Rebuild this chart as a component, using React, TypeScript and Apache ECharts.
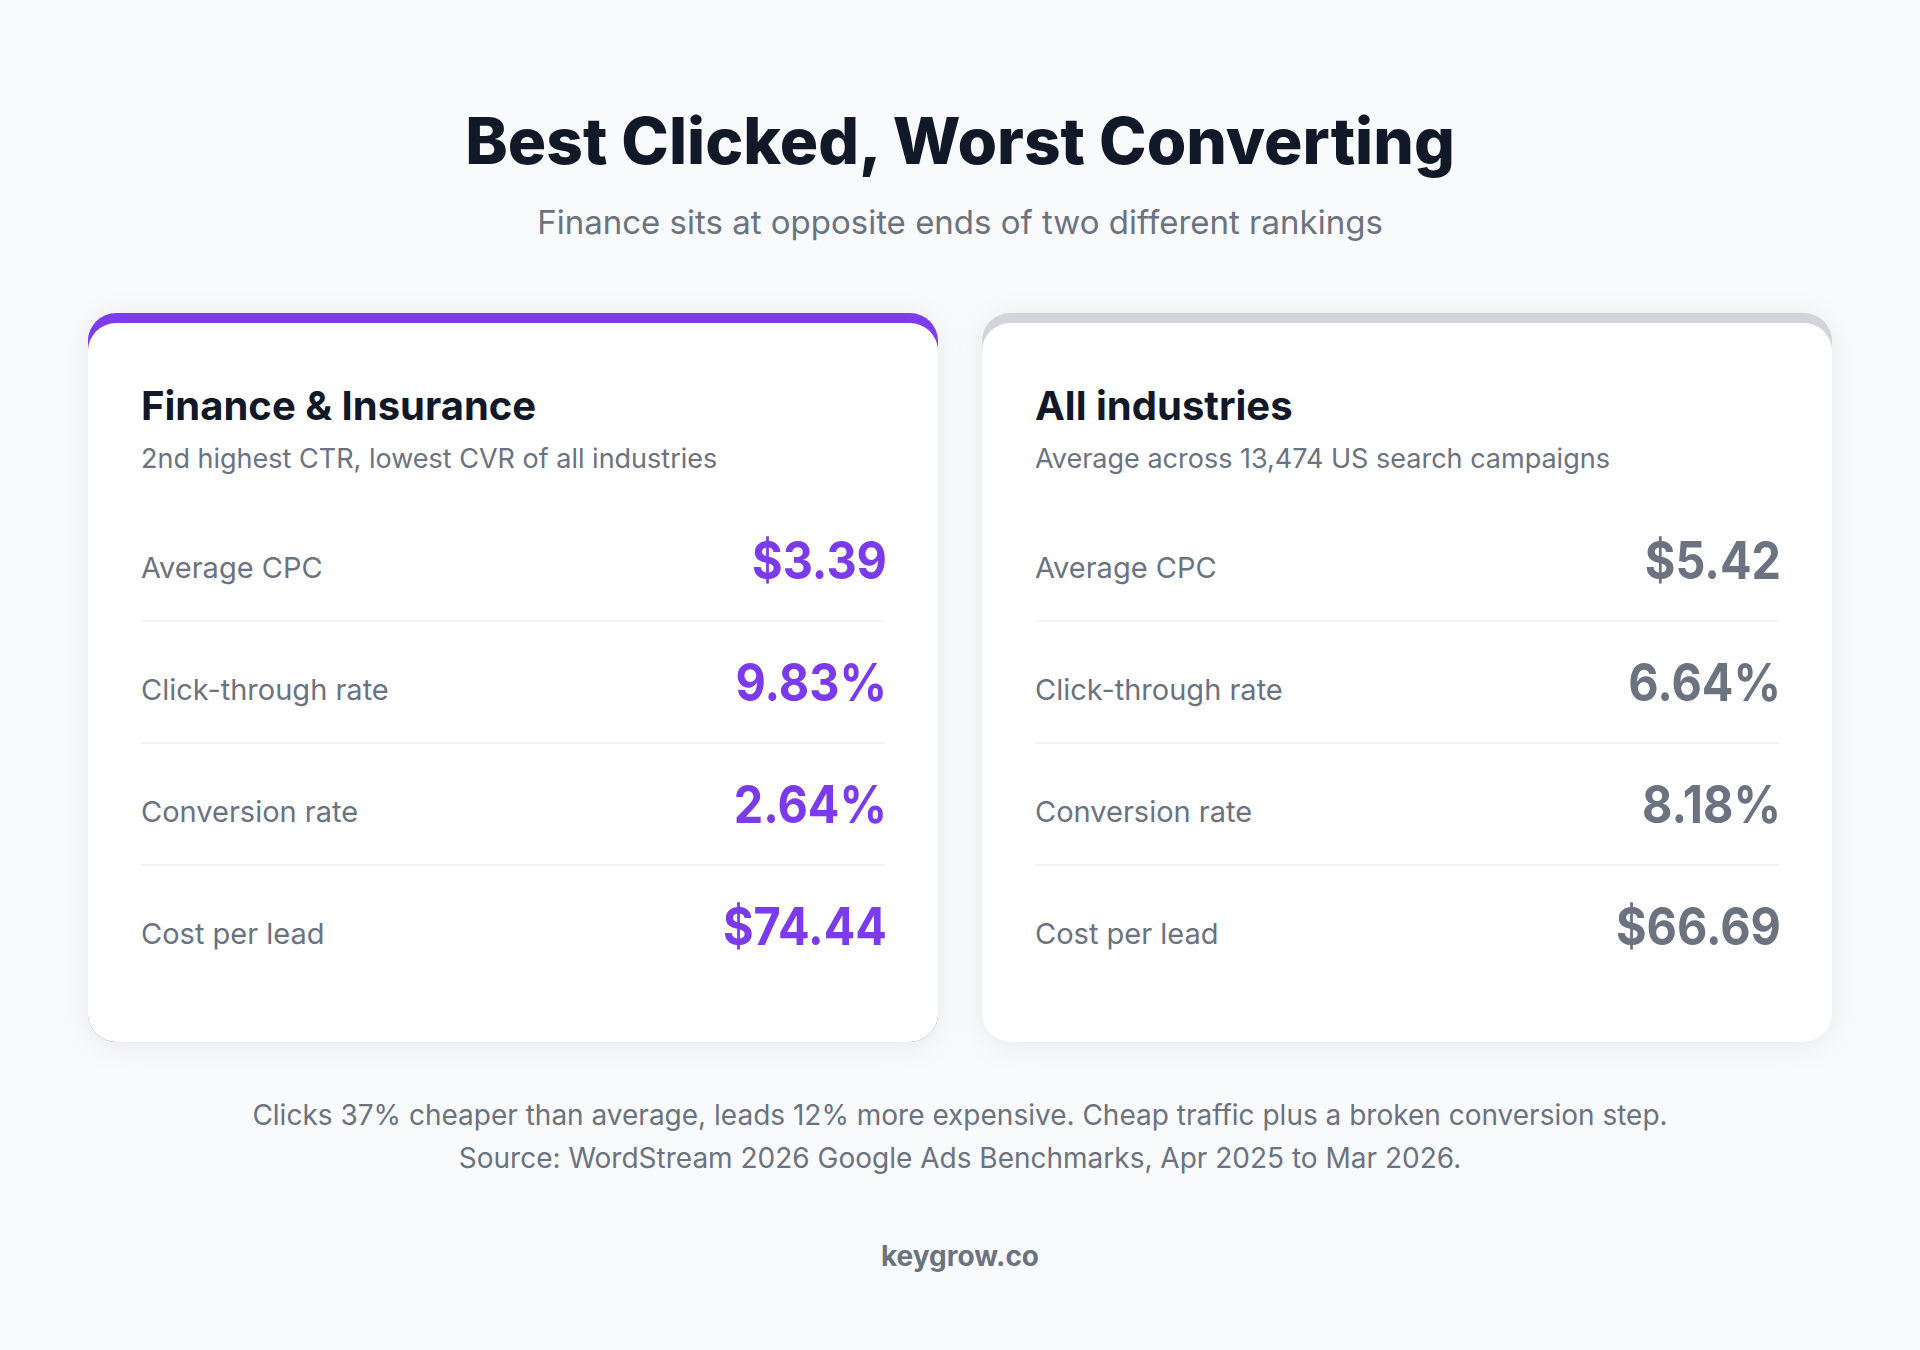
import React, { useEffect, useRef } from "react";
import * as echarts from "echarts";

const TITLE = "Best Clicked, Worst Converting";
const SUBTITLE = "Finance sits at opposite ends of two different rankings";

const metricLabels = ["Average CPC", "Click-through rate", "Conversion rate", "Cost per lead"];
const metricUnits = ["$", "%", "%", "$"];

const cardNames = ["Finance & Insurance", "All industries"];
const cardNotes = [
  "2nd highest CTR, lowest CVR of all industries",
  "Average across 13,474 US search campaigns",
];
const financeValues = [3.39, 9.83, 2.64, 74.44];
const allIndustryValues = [5.42, 6.64, 8.18, 66.69];

const footerLines = [
  "Clicks 37% cheaper than average, leads 12% more expensive. Cheap traffic plus a broken conversion step.",
  "Source: WordStream 2026 Google Ads Benchmarks, Apr 2025 to Mar 2026.",
];
const BRAND = "keygrow.co";

const FONT = "Inter, 'Noto Sans', sans-serif";
const INK = "#111827";
const MUTED = "#6b7280";
const ACCENT = "#7c3aed";

function fmt(v: number, unit: string) {
  return unit === "$" ? "$" + v.toFixed(2) : v.toFixed(2) + "%";
}

function card(x: number, idx: number, values: number[], accent: string, valueColor: string) {
  const top = 313;
  const w = 850;
  const h = 729;
  const pad = 53;
  const children: any[] = [
    {
      type: "rect",
      shape: { x, y: top, width: w, height: h, r: 28 },
      style: {
        fill: accent,
        shadowBlur: 28,
        shadowColor: "rgba(15,23,42,0.07)",
        shadowOffsetY: 4,
      },
    },
    {
      type: "rect",
      shape: { x, y: top + 10, width: w, height: h - 10, r: 28 },
      style: { fill: "#ffffff" },
    },
    {
      type: "text",
      x: x + pad,
      y: 405,
      style: {
        text: cardNames[idx],
        fill: INK,
        font: `700 40px ${FONT}`,
        verticalAlign: "middle",
      },
    },
    {
      type: "text",
      x: x + pad,
      y: 458,
      style: {
        text: cardNotes[idx],
        fill: MUTED,
        font: `400 27px ${FONT}`,
        verticalAlign: "middle",
      },
    },
  ];
  metricLabels.forEach((label, i) => {
    const cy = 567 + i * 122;
    children.push({
      type: "text",
      x: x + pad,
      y: cy,
      style: { text: label, fill: MUTED, font: `400 29px ${FONT}`, verticalAlign: "middle" },
    });
    children.push({
      type: "text",
      x: x + w - pad + 2,
      y: cy - 7,
      scaleX: 0.9,
      style: {
        text: fmt(values[i], metricUnits[i]),
        fill: valueColor,
        font: `700 52px ${FONT}`,
        align: "right",
        verticalAlign: "middle",
      },
    });
    if (i < metricLabels.length - 1) {
      children.push({
        type: "rect",
        shape: { x: x + pad, y: 620 + i * 122, width: w - pad * 2, height: 2 },
        style: { fill: "#f3f4f6" },
      });
    }
  });
  return { type: "group", children };
}

export default function App() {
  const ref = useRef<HTMLDivElement>(null);

  useEffect(() => {
    const chart = echarts.init(ref.current!, null, { renderer: "svg" });
    chart.setOption({
      animation: false,
      backgroundColor: "#f9fafb",
      graphic: [
        {
          type: "text",
          x: 960,
          y: 140,
          style: {
            text: TITLE,
            fill: INK,
            font: `800 64px ${FONT}`,
            align: "center",
            verticalAlign: "middle",
          },
        },
        {
          type: "text",
          x: 960,
          y: 222,
          style: { text: SUBTITLE, fill: MUTED, font: `400 33px ${FONT}`, align: "center", verticalAlign: "middle" },
        },
        card(88, 0, financeValues, ACCENT, ACCENT),
        card(982, 1, allIndustryValues, "#d1d5db", MUTED),
        ...footerLines.map((line, i) => ({
          type: "text",
          x: 960,
          y: 1115 + i * 43,
          style: { text: line, fill: MUTED, font: `400 28px ${FONT}`, align: "center", verticalAlign: "middle" },
        })),
        {
          type: "text",
          x: 960,
          y: 1256,
          style: { text: BRAND, fill: MUTED, font: `700 28px ${FONT}`, align: "center", verticalAlign: "middle" },
        },
      ],
    });
    return () => chart.dispose();
  }, []);

  return (
    <div
      ref={ref}
      style={{ position: "fixed", left: 0, top: 0, width: 1920, height: 1350 }}
    />
  );
}
